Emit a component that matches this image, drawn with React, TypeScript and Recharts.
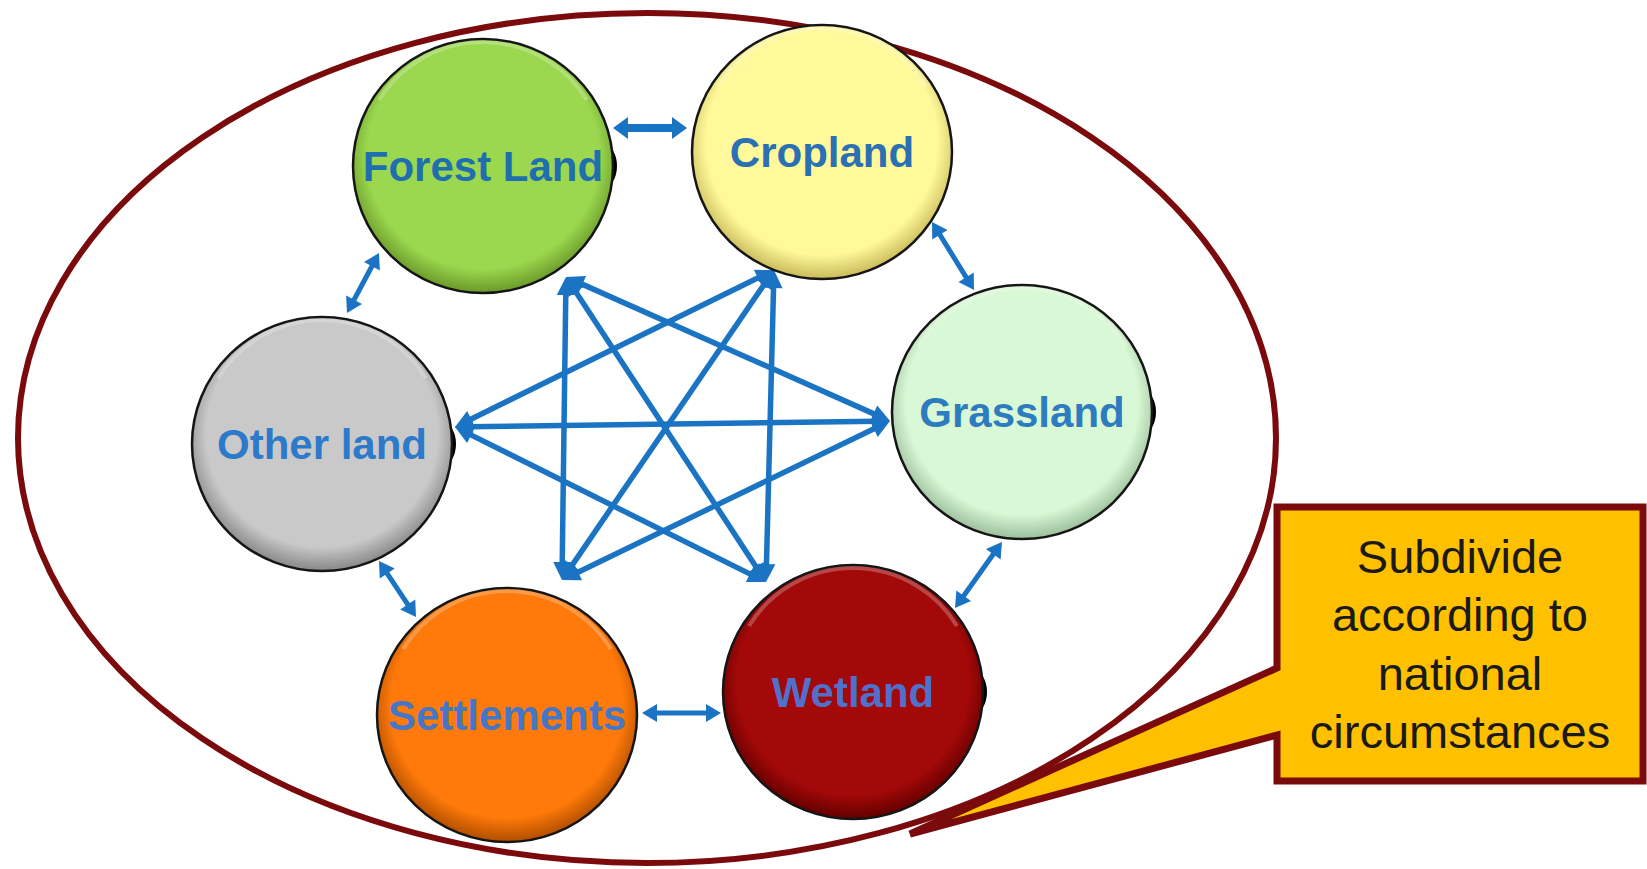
import { ScatterChart, Scatter, XAxis, YAxis, ReferenceArea, ReferenceLine } from "recharts";

const W = 1647;
const H = 869;

// land-use categories and where their circles sit (picture units, y grows downwards)
const categories = ["Forest Land", "Cropland", "Grassland", "Wetland", "Settlements", "Other land"];
const centreX = [483, 822, 1022, 853, 507, 322];
const centreY = [166, 152, 412, 692, 715, 444];

// where the long cross-conversion arrows meet each circle
const hubX = [566, 774, 890, 766, 562, 455];
const hubY = [277, 270, 421, 582, 580, 427];

// conversions between non-neighbouring categories
const crossFrom = ["Forest Land", "Forest Land", "Forest Land", "Cropland", "Cropland", "Cropland", "Grassland", "Grassland", "Wetland"];
const crossTo = ["Grassland", "Wetland", "Settlements", "Wetland", "Settlements", "Other land", "Other land", "Settlements", "Other land"];

// short arrows between neighbouring circles
const ringFrom = ["Forest Land", "Cropland", "Grassland", "Wetland", "Settlements", "Other land"];
const ringTo = ["Cropland", "Grassland", "Wetland", "Settlements", "Other land", "Forest Land"];
const ringX1 = [613, 932, 1002, 721, 416, 347];
const ringY1 = [128, 222, 542, 713, 617, 313];
const ringX2 = [687, 974, 955, 642, 379, 379];
const ringY2 = [128, 290, 608, 713, 561, 253];

// outer boundary
const boundaryX = [18, 1276];
const boundaryY = [13, 863];

// callout
const calloutLines = ["Subdivide", "according to", "national", "circumstances"];
const calloutX = [1277, 1643];
const calloutY = [507, 781];
const pointerTip = [910, 834];
const pointerBase = [668, 735];

const BLUE = "#1b74c3";
const MAROON = "#7a0a0c";
const NODE_RX = 130;
const NODE_RY = 127;
const FONT = "'Liberation Sans', Arial, Helvetica, sans-serif";

const NODE_STYLE: Record<string, { fill: string; rim: string; label: string; shadow: boolean }> = {
  "Forest Land": { fill: "#9bd84f", rim: "#6f9f2c", label: "#1f6fae", shadow: true },
  Cropland: { fill: "#fff99c", rim: "#cfc060", label: "#2a70b2", shadow: false },
  Grassland: { fill: "#d9f8d5", rim: "#a2c4a0", label: "#2c7cbf", shadow: true },
  Wetland: { fill: "#a30909", rim: "#690000", label: "#5070cc", shadow: true },
  Settlements: { fill: "#ff7a0a", rim: "#b85200", label: "#4677c6", shadow: false },
  "Other land": { fill: "#c9c9c9", rim: "#8e8e8e", label: "#2d7acb", shadow: true },
};

const idx = (name: string) => categories.indexOf(name);

const nodes = categories.map((name, i) => ({ x: centreX[i], y: centreY[i], name }));

const crossEdges = crossFrom.map((a, i) => {
  const b = crossTo[i];
  return { key: `${a}-${b}`, x1: hubX[idx(a)], y1: hubY[idx(a)], x2: hubX[idx(b)], y2: hubY[idx(b)] };
});

const ringEdges = ringFrom.map((a, i) => ({
  key: `${a}-${ringTo[i]}`,
  x1: ringX1[i],
  y1: ringY1[i],
  x2: ringX2[i],
  y2: ringY2[i],
}));

const arrowShape = (w: number, len: number, half: number) => (p: any) => {
  const { x1, y1, x2, y2 } = p;
  const dx = x2 - x1;
  const dy = y2 - y1;
  const d = Math.hypot(dx, dy) || 1;
  const ux = dx / d;
  const uy = dy / d;
  const nx = -uy;
  const ny = ux;
  const head = (tx: number, ty: number, sx: number, sy: number) =>
    `${tx},${ty} ${tx - sx * len + nx * half},${ty - sy * len + ny * half} ${tx - sx * len - nx * half},${ty - sy * len - ny * half}`;
  return (
    <g>
      <line
        x1={x1 + ux * len * 0.7}
        y1={y1 + uy * len * 0.7}
        x2={x2 - ux * len * 0.7}
        y2={y2 - uy * len * 0.7}
        stroke={BLUE}
        strokeWidth={w}
      />
      <polygon points={head(x2, y2, ux, uy)} fill={BLUE} />
      <polygon points={head(x1, y1, -ux, -uy)} fill={BLUE} />
    </g>
  );
};

const BoundaryShape = (p: any) => (
  <ellipse
    cx={p.x + p.width / 2}
    cy={p.y + p.height / 2}
    rx={p.width / 2}
    ry={p.height / 2}
    fill="none"
    stroke={MAROON}
    strokeWidth={6}
  />
);

const CalloutShape = (p: any) => {
  const { x, y, width, height } = p;
  const px = (v: number) => x + ((v - calloutX[0]) / (calloutX[1] - calloutX[0])) * width;
  const py = (v: number) => y + ((v - calloutY[0]) / (calloutY[1] - calloutY[0])) * height;
  const d =
    `M ${x} ${y} H ${x + width} V ${y + height} H ${x} V ${py(pointerBase[1])} ` +
    `L ${px(pointerTip[0])} ${py(pointerTip[1])} L ${x} ${py(pointerBase[0])} Z`;
  return (
    <g>
      <path d={d} fill="#ffc000" stroke={MAROON} strokeWidth={7} strokeLinejoin="miter" strokeMiterlimit={12} />
      {calloutLines.map((t, i) => (
        <text
          key={t}
          x={x + width / 2}
          y={y + 66 + i * 58.3}
          textAnchor="middle"
          fontFamily={FONT}
          fontSize={47}
          fill="#1a1a1a"
        >
          {t}
        </text>
      ))}
    </g>
  );
};

const NodeShape = (p: any) => {
  const { cx, cy, payload } = p;
  const name: string = payload.name;
  const s = NODE_STYLE[name];
  const id = `node-grad-${idx(name)}`;
  return (
    <g>
      <defs>
        <radialGradient id={id} cx="50%" cy="46%" r="53%">
          <stop offset="0%" stopColor={s.fill} />
          <stop offset="84%" stopColor={s.fill} />
          <stop offset="100%" stopColor={s.rim} />
        </radialGradient>
      </defs>
      {s.shadow && <ellipse cx={cx + NODE_RX - 10} cy={cy} rx={14} ry={22} fill="#000" />}
      <ellipse cx={cx} cy={cy} rx={NODE_RX} ry={NODE_RY} fill={`url(#${id})`} stroke="#151515" strokeWidth={2.5} />
      <path
        d={`M ${cx - NODE_RX * 0.8} ${cy - NODE_RY * 0.52} A ${NODE_RX * 0.93} ${NODE_RY * 0.93} 0 0 1 ${cx + NODE_RX * 0.8} ${cy - NODE_RY * 0.52}`}
        fill="none"
        stroke="#ffffff"
        strokeOpacity={0.25}
        strokeWidth={4}
      />
      <text x={cx} y={cy + 15} textAnchor="middle" fontFamily={FONT} fontWeight="bold" fontSize={42} fill={s.label}>
        {name}
      </text>
    </g>
  );
};

export default function App() {
  return (
    <div style={{ position: "fixed", left: 0, top: 0, width: W, height: H, background: "#fff" }}>
      <ScatterChart width={W} height={H} margin={{ top: 0, right: 0, bottom: 0, left: 0 }}>
        <XAxis type="number" dataKey="x" domain={[0, W]} allowDataOverflow hide />
        <YAxis type="number" dataKey="y" domain={[0, H]} allowDataOverflow reversed hide />
        <ReferenceArea
          x1={boundaryX[0]}
          x2={boundaryX[1]}
          y1={boundaryY[0]}
          y2={boundaryY[1]}
          shape={BoundaryShape}
          ifOverflow="visible"
        />
        <ReferenceArea
          x1={calloutX[0]}
          x2={calloutX[1]}
          y1={calloutY[0]}
          y2={calloutY[1]}
          shape={CalloutShape}
          ifOverflow="visible"
        />
        {crossEdges.map((e) => (
          <ReferenceLine
            key={e.key}
            segment={[
              { x: e.x1, y: e.y1 },
              { x: e.x2, y: e.y2 },
            ]}
            shape={arrowShape(5.5, 18, 9)}
            ifOverflow="visible"
          />
        ))}
        {ringEdges.map((e, i) => (
          <ReferenceLine
            key={e.key}
            segment={[
              { x: e.x1, y: e.y1 },
              { x: e.x2, y: e.y2 },
            ]}
            shape={i === 0 ? arrowShape(8, 15, 11) : arrowShape(5, 15, 9)}
            ifOverflow="visible"
          />
        ))}
        <Scatter data={nodes} shape={NodeShape} isAnimationActive={false} />
      </ScatterChart>
    </div>
  );
}
